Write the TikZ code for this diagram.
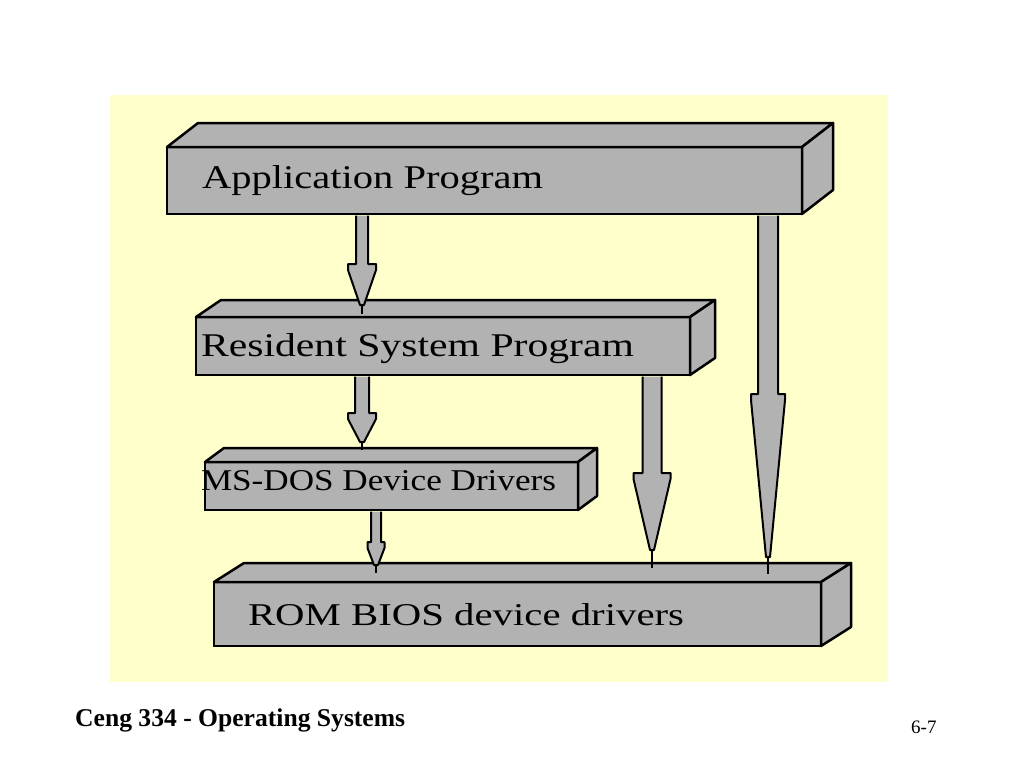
\documentclass[tikz,border=0pt]{standalone}
\usepackage{fontspec}
\setmainfont{Liberation Serif}
\usetikzlibrary{calc}
\definecolor{slidebg}{HTML}{FFFFCC}
\definecolor{boxgray}{HTML}{B2B2B2}
\tikzset{
  frontface/.style={draw=black, fill=boxgray, line width=2.5pt, rectangle, inner sep=0pt, outer sep=0pt, anchor=north west},
  sideface/.style={draw=black, fill=boxgray, line width=2.5pt, line join=round},
  arrowbody/.style={fill=boxgray},
  arrowedge/.style={draw=black, line width=2pt, line join=round},
  boxlabel/.style={anchor=base west, inner sep=0pt, outer sep=0pt},
}
% name, x, y, width, height, dx, dy
\newcommand\slab[7]{%
  \node[frontface, minimum width=#4pt, minimum height=#5pt] (#1) at (#2,#3) {};
  \filldraw[sideface] (#1.north west) -- ++(#6,-#7) -- ($(#1.north east)+(#6,-#7)$) -- (#1.north east) -- cycle;
  \filldraw[sideface] (#1.north east) -- ++(#6,-#7) -- ($(#1.south east)+(#6,-#7)$) -- (#1.south east) -- cycle;
}
% x, from node, to node, half shaft, flange y, half head, tip y, rise of end above front top
\newcommand\flowarrow[8]{%
  \path ($(#1,0 |- #2.south)+(0,1.5)$) coordinate (as);
  \path ($(#1,0 |- #3.north)+(0,-#8)$) coordinate (ae);
  \fill[arrowbody] ($(as)+(-#4,0)$) -- (#1-#4,#5) -- (#1-#6,#5) -- (#1-#6,#5+6) -- (#1-2,#7) -- (#1+2,#7) -- (#1+#6,#5+6) -- (#1+#6,#5) -- (#1+#4,#5) -- ($(as)+(#4,0)$) -- cycle;
  \draw[arrowedge] ($(as)+(-#4,0)$) -- (#1-#4,#5) -- (#1-#6,#5) -- (#1-#6,#5+6) -- (#1-2,#7) -- (#1+2,#7) -- (#1+#6,#5+6) -- (#1+#6,#5) -- (#1+#4,#5) -- ($(as)+(#4,0)$);
  \draw[arrowedge] (#1,#7) -- (ae);
}
\begin{document}
\begin{tikzpicture}[x=1pt, y=-1pt]
  \useasboundingbox (0,0) rectangle (1024,768);
  \fill[white] (0,0) rectangle (1024,768);
  \fill[slidebg] (110,95) rectangle (888,682);

  \slab{app}{167}{147}{635}{67}{31}{24}
  \slab{res}{196}{317}{494}{58}{25}{17}
  \slab{msdos}{205}{462}{373}{48}{19}{14}
  \slab{rom}{214}{582}{607}{64}{30}{19}

  \node[boxlabel] (tapp) at (202,188) {\resizebox{341pt}{23pt}{Application Program}};
  \node[boxlabel] (tres) at (201,356) {\resizebox{433pt}{23pt}{Resident System Program}};
  \node[boxlabel] (tmsdos) at (201,490) {\resizebox{355pt}{20pt}{MS-DOS Device Drivers}};
  \node[boxlabel] (trom) at (248,625) {\resizebox{436pt}{22pt}{ROM BIOS device drivers}};

  \flowarrow{362}{app}{res}{6}{264}{14}{305}{3}
  \flowarrow{362}{res}{msdos}{7}{413}{14}{442}{12}
  \flowarrow{376}{msdos}{rom}{5}{542}{8.5}{565}{9}
  \flowarrow{652}{res}{rom}{9.5}{473}{18.5}{550}{14}
  \flowarrow{768}{app}{rom}{10}{394}{17}{557}{8}

  \node[anchor=base west, inner sep=0pt] (footer) at (75,726) {\fontsize{25.6}{30}\selectfont\bfseries Ceng 334 - Operating Systems};
  \node[anchor=base west, inner sep=0pt] (pagenum) at (911,733) {\fontsize{19}{22}\selectfont 6-7};
\end{tikzpicture}
\end{document}
